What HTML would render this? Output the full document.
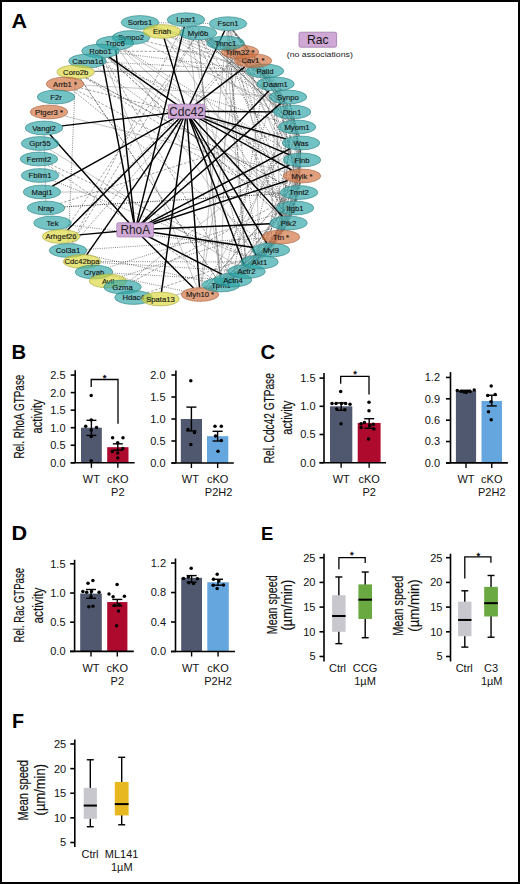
<!DOCTYPE html>
<html><head><meta charset="utf-8"><style>
html,body{margin:0;padding:0;background:#fff;}
svg{display:block;}
text{font-family:"Liberation Sans", sans-serif;}
</style></head><body>
<svg width="520" height="884" viewBox="0 0 520 884">
<rect x="0" y="0" width="520" height="884" fill="#fff"/>
<text transform="translate(11.5,28) scale(1.06,1)" font-size="20.3" font-weight="bold" fill="#000">A</text>
<line x1="291.14" y1="214.75" x2="274.86" y2="243.25" stroke="#222" stroke-width="0.6" stroke-dasharray="0.9,1.3"/>
<line x1="291.72" y1="214.79" x2="284.28" y2="230.21" stroke="#222" stroke-width="0.6" stroke-dasharray="0.9,1.3"/>
<line x1="270.16" y1="77.38" x2="270.34" y2="77.62" stroke="#222" stroke-width="0.6" stroke-dasharray="0.9,1.3"/>
<line x1="282.17" y1="229.5" x2="239.33" y2="273.5" stroke="#555" stroke-width="0.55" stroke-dasharray="2.6,1.6"/>
<line x1="256.82" y1="64.79" x2="248.18" y2="58.21" stroke="#555" stroke-width="0.55" stroke-dasharray="2.6,1.6"/>
<line x1="243.69" y1="54.71" x2="234.81" y2="48.99" stroke="#555" stroke-width="0.55" stroke-dasharray="2.6,1.6"/>
<line x1="212.05" y1="289.2" x2="220.95" y2="285.3" stroke="#8a8a8a" stroke-width="0.5"/>
<line x1="300.5" y1="182.88" x2="296.5" y2="201.12" stroke="#555" stroke-width="0.55" stroke-dasharray="2.6,1.6"/>
<line x1="237.03" y1="277.46" x2="242.47" y2="274.04" stroke="#8a8a8a" stroke-width="0.5"/>
<line x1="229.71" y1="30.57" x2="279.29" y2="230.13" stroke="#8a8a8a" stroke-width="0.5"/>
<line x1="207.16" y1="39.03" x2="266.34" y2="77.97" stroke="#222" stroke-width="0.6" stroke-dasharray="0.9,1.3"/>
<line x1="245.99" y1="264.6" x2="228.51" y2="30.6" stroke="#222" stroke-width="0.6" stroke-dasharray="0.9,1.3"/>
<line x1="300.36" y1="149.9" x2="295.64" y2="201.1" stroke="#555" stroke-width="0.55" stroke-dasharray="2.6,1.6"/>
<line x1="275.75" y1="90.9" x2="280.75" y2="230.1" stroke="#8a8a8a" stroke-width="0.5"/>
<line x1="296.39" y1="133.9" x2="289.11" y2="216.1" stroke="#8a8a8a" stroke-width="0.5"/>
<line x1="228.37" y1="49.82" x2="292.13" y2="201.18" stroke="#555" stroke-width="0.55" stroke-dasharray="2.6,1.6"/>
<line x1="295.69" y1="199.29" x2="274.31" y2="243.21" stroke="#222" stroke-width="0.6" stroke-dasharray="0.9,1.3"/>
<line x1="224.8" y1="49.9" x2="200.7" y2="287.6" stroke="#8a8a8a" stroke-width="0.5"/>
<line x1="287.66" y1="103.9" x2="281.34" y2="230.1" stroke="#8a8a8a" stroke-width="0.5"/>
<line x1="226.57" y1="49.89" x2="258.43" y2="255.11" stroke="#222" stroke-width="0.6" stroke-dasharray="0.9,1.3"/>
<line x1="298.61" y1="169.21" x2="243.39" y2="58.79" stroke="#222" stroke-width="0.6" stroke-dasharray="0.9,1.3"/>
<line x1="298.12" y1="169.25" x2="229.38" y2="49.75" stroke="#222" stroke-width="0.6" stroke-dasharray="0.9,1.3"/>
<line x1="221.18" y1="278.1" x2="227.82" y2="30.6" stroke="#8a8a8a" stroke-width="0.5"/>
<line x1="201.24" y1="39.8" x2="285.26" y2="216.2" stroke="#555" stroke-width="0.55" stroke-dasharray="2.6,1.6"/>
<line x1="205.66" y1="287.92" x2="296.34" y2="182.58" stroke="#555" stroke-width="0.55" stroke-dasharray="2.6,1.6"/>
<line x1="250.56" y1="268.07" x2="241.94" y2="273.93" stroke="#8a8a8a" stroke-width="0.5"/>
<line x1="223.8" y1="278.18" x2="289.2" y2="118.82" stroke="#8a8a8a" stroke-width="0.5"/>
<line x1="298.72" y1="133.87" x2="299.28" y2="136.13" stroke="#8a8a8a" stroke-width="0.5"/>
<line x1="296.14" y1="185.68" x2="242.86" y2="58.82" stroke="#8a8a8a" stroke-width="0.5"/>
<line x1="201.14" y1="287.61" x2="238.86" y2="58.89" stroke="#8a8a8a" stroke-width="0.5"/>
<line x1="292.05" y1="214.81" x2="291.45" y2="216.19" stroke="#8a8a8a" stroke-width="0.5"/>
<line x1="271.19" y1="243.1" x2="275.31" y2="90.9" stroke="#555" stroke-width="0.55" stroke-dasharray="2.6,1.6"/>
<line x1="269.22" y1="77.5" x2="259.28" y2="67.2" stroke="#555" stroke-width="0.55" stroke-dasharray="2.6,1.6"/>
<line x1="298.61" y1="169.21" x2="243.39" y2="58.79" stroke="#555" stroke-width="0.55" stroke-dasharray="2.6,1.6"/>
<line x1="270.28" y1="77.37" x2="233.22" y2="30.33" stroke="#8a8a8a" stroke-width="0.5"/>
<line x1="261.41" y1="255.14" x2="295.09" y2="133.86" stroke="#222" stroke-width="0.6" stroke-dasharray="0.9,1.3"/>
<line x1="233.22" y1="30.33" x2="270.28" y2="77.37" stroke="#8a8a8a" stroke-width="0.5"/>
<line x1="237.03" y1="277.46" x2="242.47" y2="274.04" stroke="#555" stroke-width="0.55" stroke-dasharray="2.6,1.6"/>
<line x1="209.07" y1="38.58" x2="241.93" y2="55.12" stroke="#8a8a8a" stroke-width="0.5"/>
<line x1="287.17" y1="105.33" x2="232.83" y2="30.37" stroke="#222" stroke-width="0.6" stroke-dasharray="0.9,1.3"/>
<line x1="299.28" y1="136.13" x2="298.72" y2="133.87" stroke="#555" stroke-width="0.55" stroke-dasharray="2.6,1.6"/>
<line x1="233.18" y1="49.3" x2="267.82" y2="77.7" stroke="#555" stroke-width="0.55" stroke-dasharray="2.6,1.6"/>
<line x1="282.59" y1="90.39" x2="233.41" y2="30.31" stroke="#555" stroke-width="0.55" stroke-dasharray="2.6,1.6"/>
<line x1="298.62" y1="166.79" x2="249.88" y2="264.71" stroke="#555" stroke-width="0.55" stroke-dasharray="2.6,1.6"/>
<line x1="264.45" y1="255.34" x2="283.55" y2="229.66" stroke="#222" stroke-width="0.6" stroke-dasharray="0.9,1.3"/>
<line x1="255.9" y1="67.52" x2="299.1" y2="169.18" stroke="#8a8a8a" stroke-width="0.5"/>
<line x1="257.45" y1="67.4" x2="292.55" y2="120.3" stroke="#222" stroke-width="0.6" stroke-dasharray="0.9,1.3"/>
<line x1="248.13" y1="264.63" x2="286.37" y2="103.87" stroke="#222" stroke-width="0.6" stroke-dasharray="0.9,1.3"/>
<line x1="263.95" y1="77.89" x2="234.05" y2="273.11" stroke="#222" stroke-width="0.6" stroke-dasharray="0.9,1.3"/>
<line x1="273.64" y1="90.87" x2="222.86" y2="278.13" stroke="#222" stroke-width="0.6" stroke-dasharray="0.9,1.3"/>
<line x1="282.81" y1="229.58" x2="252.19" y2="264.92" stroke="#8a8a8a" stroke-width="0.5"/>
<line x1="209.84" y1="38.36" x2="228.16" y2="46.64" stroke="#8a8a8a" stroke-width="0.5"/>
<line x1="281.61" y1="230.1" x2="291.39" y2="118.9" stroke="#8a8a8a" stroke-width="0.5"/>
<line x1="205.66" y1="287.92" x2="296.34" y2="182.58" stroke="#8a8a8a" stroke-width="0.5"/>
<line x1="252.19" y1="264.92" x2="282.81" y2="229.58" stroke="#8a8a8a" stroke-width="0.5"/>
<line x1="256.36" y1="64.87" x2="234.14" y2="49.13" stroke="#8a8a8a" stroke-width="0.5"/>
<line x1="284.15" y1="229.71" x2="275.35" y2="243.29" stroke="#555" stroke-width="0.55" stroke-dasharray="2.6,1.6"/>
<line x1="245.87" y1="264.6" x2="226.13" y2="49.9" stroke="#8a8a8a" stroke-width="0.5"/>
<line x1="270.28" y1="77.37" x2="233.22" y2="30.33" stroke="#8a8a8a" stroke-width="0.5"/>
<line x1="297.23" y1="199.37" x2="296.77" y2="201.13" stroke="#8a8a8a" stroke-width="0.5"/>
<line x1="208.21" y1="38.79" x2="254.79" y2="65.21" stroke="#8a8a8a" stroke-width="0.5"/>
<line x1="275.34" y1="243.58" x2="265.16" y2="255.42" stroke="#222" stroke-width="0.6" stroke-dasharray="0.9,1.3"/>
<line x1="229.89" y1="49.71" x2="297.61" y2="153.29" stroke="#8a8a8a" stroke-width="0.5"/>
<line x1="295.64" y1="201.1" x2="300.36" y2="149.9" stroke="#555" stroke-width="0.55" stroke-dasharray="2.6,1.6"/>
<line x1="208.63" y1="288.37" x2="272.37" y2="243.13" stroke="#555" stroke-width="0.55" stroke-dasharray="2.6,1.6"/>
<line x1="253.22" y1="67.6" x2="259.28" y2="255.1" stroke="#8a8a8a" stroke-width="0.5"/>
<line x1="230.08" y1="30.56" x2="286.42" y2="216.14" stroke="#222" stroke-width="0.6" stroke-dasharray="0.9,1.3"/>
<line x1="203.91" y1="287.75" x2="293.09" y2="133.75" stroke="#222" stroke-width="0.6" stroke-dasharray="0.9,1.3"/>
<line x1="228.51" y1="30.6" x2="245.99" y2="264.6" stroke="#555" stroke-width="0.55" stroke-dasharray="2.6,1.6"/>
<line x1="286.1" y1="216.16" x2="227.9" y2="49.84" stroke="#222" stroke-width="0.6" stroke-dasharray="0.9,1.3"/>
<line x1="300.72" y1="149.9" x2="299.28" y2="185.6" stroke="#222" stroke-width="0.6" stroke-dasharray="0.9,1.3"/>
<line x1="232.85" y1="49.35" x2="280.65" y2="90.65" stroke="#555" stroke-width="0.55" stroke-dasharray="2.6,1.6"/>
<line x1="204.78" y1="39.44" x2="290.22" y2="120.56" stroke="#222" stroke-width="0.6" stroke-dasharray="0.9,1.3"/>
<line x1="258.05" y1="67.35" x2="286.95" y2="105.35" stroke="#555" stroke-width="0.55" stroke-dasharray="2.6,1.6"/>
<line x1="228.84" y1="278.73" x2="273.16" y2="243.27" stroke="#222" stroke-width="0.6" stroke-dasharray="0.9,1.3"/>
<line x1="296.64" y1="199.35" x2="290.86" y2="216.15" stroke="#222" stroke-width="0.6" stroke-dasharray="0.9,1.3"/>
<line x1="250.56" y1="268.07" x2="241.94" y2="273.93" stroke="#555" stroke-width="0.55" stroke-dasharray="2.6,1.6"/>
<line x1="299.64" y1="182.85" x2="283.36" y2="230.15" stroke="#555" stroke-width="0.55" stroke-dasharray="2.6,1.6"/>
<line x1="235.79" y1="277.17" x2="231.71" y2="279.33" stroke="#8a8a8a" stroke-width="0.5"/>
<line x1="220.95" y1="285.3" x2="212.05" y2="289.2" stroke="#222" stroke-width="0.6" stroke-dasharray="0.9,1.3"/>
<line x1="293.44" y1="199.09" x2="226.56" y2="278.41" stroke="#8a8a8a" stroke-width="0.5"/>
<line x1="208.63" y1="288.37" x2="272.37" y2="243.13" stroke="#555" stroke-width="0.55" stroke-dasharray="2.6,1.6"/>
<line x1="289.93" y1="214.64" x2="251.57" y2="264.86" stroke="#8a8a8a" stroke-width="0.5"/>
<line x1="275.34" y1="243.58" x2="265.16" y2="255.42" stroke="#8a8a8a" stroke-width="0.5"/>
<line x1="232.85" y1="49.35" x2="280.65" y2="90.65" stroke="#8a8a8a" stroke-width="0.5"/>
<line x1="212.05" y1="289.2" x2="220.95" y2="285.3" stroke="#555" stroke-width="0.55" stroke-dasharray="2.6,1.6"/>
<line x1="250.42" y1="264.75" x2="298.08" y2="182.75" stroke="#222" stroke-width="0.6" stroke-dasharray="0.9,1.3"/>
<line x1="293.99" y1="118.86" x2="299.01" y2="136.14" stroke="#555" stroke-width="0.55" stroke-dasharray="2.6,1.6"/>
<line x1="256.35" y1="67.49" x2="298.65" y2="153.21" stroke="#555" stroke-width="0.55" stroke-dasharray="2.6,1.6"/>
<line x1="274.52" y1="243.48" x2="252.98" y2="265.02" stroke="#222" stroke-width="0.6" stroke-dasharray="0.9,1.3"/>
<line x1="299.08" y1="149.86" x2="272.92" y2="243.14" stroke="#222" stroke-width="0.6" stroke-dasharray="0.9,1.3"/>
<line x1="283.55" y1="229.66" x2="264.45" y2="255.34" stroke="#8a8a8a" stroke-width="0.5"/>
<line x1="230.84" y1="279.12" x2="249.66" y2="267.88" stroke="#8a8a8a" stroke-width="0.5"/>
<line x1="296.24" y1="199.33" x2="283.76" y2="230.17" stroke="#222" stroke-width="0.6" stroke-dasharray="0.9,1.3"/>
<line x1="300.03" y1="182.86" x2="290.47" y2="216.14" stroke="#555" stroke-width="0.55" stroke-dasharray="2.6,1.6"/>
<line x1="300.72" y1="149.9" x2="299.28" y2="185.6" stroke="#8a8a8a" stroke-width="0.5"/>
<line x1="282.81" y1="229.58" x2="252.19" y2="264.92" stroke="#222" stroke-width="0.6" stroke-dasharray="0.9,1.3"/>
<line x1="204.78" y1="39.44" x2="290.22" y2="120.56" stroke="#8a8a8a" stroke-width="0.5"/>
<line x1="293.43" y1="118.88" x2="300.57" y2="153.12" stroke="#8a8a8a" stroke-width="0.5"/>
<line x1="283.55" y1="229.66" x2="264.45" y2="255.34" stroke="#222" stroke-width="0.6" stroke-dasharray="0.9,1.3"/>
<line x1="295.69" y1="199.29" x2="274.31" y2="243.21" stroke="#555" stroke-width="0.55" stroke-dasharray="2.6,1.6"/>
<line x1="280.72" y1="229.28" x2="207.78" y2="288.22" stroke="#8a8a8a" stroke-width="0.5"/>
<line x1="251.57" y1="264.86" x2="289.93" y2="214.64" stroke="#8a8a8a" stroke-width="0.5"/>
<line x1="209.07" y1="38.58" x2="241.93" y2="55.12" stroke="#222" stroke-width="0.6" stroke-dasharray="0.9,1.3"/>
<line x1="205.52" y1="39.32" x2="284.48" y2="105.68" stroke="#222" stroke-width="0.6" stroke-dasharray="0.9,1.3"/>
<line x1="249.01" y1="267.73" x2="210.49" y2="288.77" stroke="#8a8a8a" stroke-width="0.5"/>
<line x1="250.56" y1="268.07" x2="241.94" y2="273.93" stroke="#555" stroke-width="0.55" stroke-dasharray="2.6,1.6"/>
<line x1="299.14" y1="182.82" x2="273.86" y2="243.18" stroke="#8a8a8a" stroke-width="0.5"/>
<line x1="293.43" y1="118.88" x2="300.57" y2="153.12" stroke="#222" stroke-width="0.6" stroke-dasharray="0.9,1.3"/>
<line x1="205.52" y1="39.32" x2="284.48" y2="105.68" stroke="#8a8a8a" stroke-width="0.5"/>
<line x1="244.49" y1="58.7" x2="296.51" y2="136.3" stroke="#555" stroke-width="0.55" stroke-dasharray="2.6,1.6"/>
<line x1="240.13" y1="273.62" x2="273.87" y2="243.38" stroke="#222" stroke-width="0.6" stroke-dasharray="0.9,1.3"/>
<line x1="230.84" y1="279.12" x2="249.66" y2="267.88" stroke="#8a8a8a" stroke-width="0.5"/>
<line x1="283.55" y1="229.66" x2="264.45" y2="255.34" stroke="#8a8a8a" stroke-width="0.5"/>
<line x1="233.19" y1="30.33" x2="259.81" y2="64.37" stroke="#555" stroke-width="0.55" stroke-dasharray="2.6,1.6"/>
<line x1="209.07" y1="38.58" x2="241.93" y2="55.12" stroke="#8a8a8a" stroke-width="0.5"/>
<line x1="300.13" y1="166.87" x2="282.87" y2="230.13" stroke="#555" stroke-width="0.55" stroke-dasharray="2.6,1.6"/>
<line x1="273.16" y1="243.27" x2="228.84" y2="278.73" stroke="#555" stroke-width="0.55" stroke-dasharray="2.6,1.6"/>
<line x1="268.86" y1="77.75" x2="293.14" y2="120.25" stroke="#222" stroke-width="0.6" stroke-dasharray="0.9,1.3"/>
<line x1="211.2" y1="288.96" x2="235.3" y2="277.04" stroke="#8a8a8a" stroke-width="0.5"/>
<line x1="300.03" y1="182.86" x2="290.47" y2="216.14" stroke="#555" stroke-width="0.55" stroke-dasharray="2.6,1.6"/>
<line x1="276.99" y1="90.88" x2="297.51" y2="185.62" stroke="#222" stroke-width="0.6" stroke-dasharray="0.9,1.3"/>
<line x1="232.53" y1="30.4" x2="248.47" y2="54.0" stroke="#555" stroke-width="0.55" stroke-dasharray="2.6,1.6"/>
<line x1="239.33" y1="273.5" x2="282.17" y2="229.5" stroke="#222" stroke-width="0.6" stroke-dasharray="0.9,1.3"/>
<line x1="299.92" y1="149.89" x2="289.58" y2="216.11" stroke="#8a8a8a" stroke-width="0.5"/>
<line x1="279.47" y1="90.74" x2="288.03" y2="105.26" stroke="#222" stroke-width="0.6" stroke-dasharray="0.9,1.3"/>
<line x1="237.45" y1="273.3" x2="297.55" y2="182.7" stroke="#8a8a8a" stroke-width="0.5"/>
<line x1="289.53" y1="103.88" x2="300.47" y2="153.12" stroke="#222" stroke-width="0.6" stroke-dasharray="0.9,1.3"/>
<line x1="296.83" y1="133.9" x2="295.17" y2="201.1" stroke="#222" stroke-width="0.6" stroke-dasharray="0.9,1.3"/>
<line x1="300.72" y1="149.9" x2="299.28" y2="185.6" stroke="#222" stroke-width="0.6" stroke-dasharray="0.9,1.3"/>
<line x1="232.53" y1="30.4" x2="248.47" y2="54.0" stroke="#555" stroke-width="0.55" stroke-dasharray="2.6,1.6"/>
<line x1="207.16" y1="39.03" x2="266.34" y2="77.97" stroke="#8a8a8a" stroke-width="0.5"/>
<line x1="296.24" y1="199.33" x2="283.76" y2="230.17" stroke="#555" stroke-width="0.55" stroke-dasharray="2.6,1.6"/>
<line x1="230.89" y1="30.52" x2="237.11" y2="45.18" stroke="#222" stroke-width="0.6" stroke-dasharray="0.9,1.3"/>
<line x1="233.18" y1="49.3" x2="267.82" y2="77.7" stroke="#222" stroke-width="0.6" stroke-dasharray="0.9,1.3"/>
<line x1="268.39" y1="77.79" x2="297.61" y2="136.21" stroke="#8a8a8a" stroke-width="0.5"/>
<line x1="257.45" y1="67.4" x2="292.55" y2="120.3" stroke="#8a8a8a" stroke-width="0.5"/>
<line x1="281.61" y1="230.1" x2="291.39" y2="118.9" stroke="#555" stroke-width="0.55" stroke-dasharray="2.6,1.6"/>
<line x1="226.56" y1="278.41" x2="293.44" y2="199.09" stroke="#555" stroke-width="0.55" stroke-dasharray="2.6,1.6"/>
<line x1="281.52" y1="229.41" x2="227.98" y2="278.59" stroke="#222" stroke-width="0.6" stroke-dasharray="0.9,1.3"/>
<line x1="234.14" y1="49.13" x2="256.36" y2="64.87" stroke="#555" stroke-width="0.55" stroke-dasharray="2.6,1.6"/>
<line x1="263.07" y1="256.26" x2="240.93" y2="273.74" stroke="#222" stroke-width="0.6" stroke-dasharray="0.9,1.3"/>
<line x1="272.92" y1="243.14" x2="299.08" y2="149.86" stroke="#8a8a8a" stroke-width="0.5"/>
<line x1="273.16" y1="243.27" x2="228.84" y2="278.73" stroke="#8a8a8a" stroke-width="0.5"/>
<line x1="229.73" y1="278.89" x2="262.27" y2="256.11" stroke="#222" stroke-width="0.6" stroke-dasharray="0.9,1.3"/>
<line x1="235.3" y1="277.04" x2="211.2" y2="288.96" stroke="#8a8a8a" stroke-width="0.5"/>
<line x1="257.45" y1="67.4" x2="292.55" y2="120.3" stroke="#555" stroke-width="0.55" stroke-dasharray="2.6,1.6"/>
<line x1="263.34" y1="255.25" x2="295.16" y2="199.25" stroke="#8a8a8a" stroke-width="0.5"/>
<line x1="263.75" y1="256.37" x2="253.75" y2="265.13" stroke="#555" stroke-width="0.55" stroke-dasharray="2.6,1.6"/>
<line x1="252.19" y1="264.92" x2="282.81" y2="229.58" stroke="#8a8a8a" stroke-width="0.5"/>
<line x1="207.16" y1="39.03" x2="266.34" y2="77.97" stroke="#222" stroke-width="0.6" stroke-dasharray="0.9,1.3"/>
<line x1="273.36" y1="243.15" x2="299.64" y2="166.85" stroke="#8a8a8a" stroke-width="0.5"/>
<line x1="230.52" y1="49.65" x2="295.98" y2="136.35" stroke="#8a8a8a" stroke-width="0.5"/>
<line x1="261.5" y1="255.95" x2="209.5" y2="288.55" stroke="#555" stroke-width="0.55" stroke-dasharray="2.6,1.6"/>
<line x1="300.03" y1="182.86" x2="290.47" y2="216.14" stroke="#8a8a8a" stroke-width="0.5"/>
<line x1="283.55" y1="229.66" x2="264.45" y2="255.34" stroke="#8a8a8a" stroke-width="0.5"/>
<line x1="282.17" y1="229.5" x2="239.33" y2="273.5" stroke="#8a8a8a" stroke-width="0.5"/>
<line x1="278.45" y1="90.81" x2="298.05" y2="136.19" stroke="#555" stroke-width="0.55" stroke-dasharray="2.6,1.6"/>
<line x1="293.43" y1="118.88" x2="300.57" y2="153.12" stroke="#222" stroke-width="0.6" stroke-dasharray="0.9,1.3"/>
<line x1="227.11" y1="30.59" x2="226.39" y2="36.11" stroke="#8a8a8a" stroke-width="0.5"/>
<line x1="290.06" y1="103.86" x2="294.94" y2="120.14" stroke="#555" stroke-width="0.55" stroke-dasharray="2.6,1.6"/>
<line x1="298.61" y1="149.84" x2="261.89" y2="255.16" stroke="#555" stroke-width="0.55" stroke-dasharray="2.6,1.6"/>
<line x1="251.57" y1="264.86" x2="289.93" y2="214.64" stroke="#8a8a8a" stroke-width="0.5"/>
<line x1="250.56" y1="268.07" x2="241.94" y2="273.93" stroke="#222" stroke-width="0.6" stroke-dasharray="0.9,1.3"/>
<line x1="235.3" y1="277.04" x2="211.2" y2="288.96" stroke="#222" stroke-width="0.6" stroke-dasharray="0.9,1.3"/>
<line x1="209.5" y1="288.55" x2="261.5" y2="255.95" stroke="#222" stroke-width="0.6" stroke-dasharray="0.9,1.3"/>
<line x1="232.53" y1="30.4" x2="248.47" y2="54.0" stroke="#555" stroke-width="0.55" stroke-dasharray="2.6,1.6"/>
<line x1="272.37" y1="243.13" x2="208.63" y2="288.37" stroke="#8a8a8a" stroke-width="0.5"/>
<line x1="276.99" y1="90.88" x2="297.51" y2="185.62" stroke="#555" stroke-width="0.55" stroke-dasharray="2.6,1.6"/>
<line x1="277.89" y1="90.84" x2="299.61" y2="153.16" stroke="#8a8a8a" stroke-width="0.5"/>
<line x1="273.36" y1="243.15" x2="299.64" y2="166.85" stroke="#555" stroke-width="0.55" stroke-dasharray="2.6,1.6"/>
<line x1="259.27" y1="67.2" x2="281.73" y2="90.5" stroke="#222" stroke-width="0.6" stroke-dasharray="0.9,1.3"/>
<line x1="240.13" y1="273.62" x2="273.87" y2="243.38" stroke="#222" stroke-width="0.6" stroke-dasharray="0.9,1.3"/>
<line x1="299.54" y1="149.88" x2="282.46" y2="230.12" stroke="#8a8a8a" stroke-width="0.5"/>
<line x1="278.89" y1="90.79" x2="293.61" y2="120.21" stroke="#222" stroke-width="0.6" stroke-dasharray="0.9,1.3"/>
<line x1="279.47" y1="90.74" x2="288.03" y2="105.26" stroke="#8a8a8a" stroke-width="0.5"/>
<line x1="289.94" y1="103.86" x2="299.06" y2="136.14" stroke="#222" stroke-width="0.6" stroke-dasharray="0.9,1.3"/>
<line x1="293.08" y1="118.89" x2="300.92" y2="169.11" stroke="#8a8a8a" stroke-width="0.5"/>
<line x1="295.16" y1="199.25" x2="263.34" y2="255.25" stroke="#222" stroke-width="0.6" stroke-dasharray="0.9,1.3"/>
<line x1="259.27" y1="67.2" x2="281.73" y2="90.5" stroke="#555" stroke-width="0.55" stroke-dasharray="2.6,1.6"/>
<line x1="151.82" y1="27.87" x2="263.68" y2="78.63" stroke="#8a8a8a" stroke-width="0.5"/>
<line x1="108.28" y1="57.28" x2="287.22" y2="201.72" stroke="#8a8a8a" stroke-width="0.5"/>
<line x1="86.27" y1="77.71" x2="288.43" y2="186.79" stroke="#555" stroke-width="0.55" stroke-dasharray="2.6,1.6"/>
<line x1="146.54" y1="41.38" x2="249.46" y2="67.12" stroke="#555" stroke-width="0.55" stroke-dasharray="2.6,1.6"/>
<line x1="153.83" y1="27.17" x2="239.17" y2="56.03" stroke="#222" stroke-width="0.6" stroke-dasharray="0.9,1.3"/>
<line x1="80.27" y1="78.69" x2="216.43" y2="278.31" stroke="#555" stroke-width="0.55" stroke-dasharray="2.6,1.6"/>
<line x1="142.68" y1="42.91" x2="280.32" y2="106.59" stroke="#8a8a8a" stroke-width="0.5"/>
<line x1="171.59" y1="37.44" x2="282.41" y2="106.06" stroke="#222" stroke-width="0.6" stroke-dasharray="0.9,1.3"/>
<line x1="186.91" y1="26.59" x2="220.09" y2="278.11" stroke="#8a8a8a" stroke-width="0.5"/>
<line x1="106.08" y1="62.05" x2="246.42" y2="69.95" stroke="#222" stroke-width="0.6" stroke-dasharray="0.9,1.3"/>
<line x1="107.5" y1="57.4" x2="281.5" y2="216.6" stroke="#555" stroke-width="0.55" stroke-dasharray="2.6,1.6"/>
<line x1="85.28" y1="77.94" x2="285.42" y2="202.06" stroke="#555" stroke-width="0.55" stroke-dasharray="2.6,1.6"/>
<line x1="119.3" y1="51.13" x2="221.2" y2="51.87" stroke="#555" stroke-width="0.55" stroke-dasharray="2.6,1.6"/>
<line x1="149.08" y1="28.54" x2="287.92" y2="120.96" stroke="#8a8a8a" stroke-width="0.5"/>
<line x1="96.15" y1="67.13" x2="286.35" y2="201.87" stroke="#222" stroke-width="0.6" stroke-dasharray="0.9,1.3"/>
<line x1="204.78" y1="39.44" x2="290.22" y2="120.56" stroke="#555" stroke-width="0.55" stroke-dasharray="2.6,1.6"/>
<line x1="187.65" y1="26.57" x2="244.85" y2="264.63" stroke="#222" stroke-width="0.6" stroke-dasharray="0.9,1.3"/>
<line x1="118.35" y1="53.17" x2="247.15" y2="68.83" stroke="#222" stroke-width="0.6" stroke-dasharray="0.9,1.3"/>
<line x1="198.63" y1="39.9" x2="220.37" y2="278.1" stroke="#555" stroke-width="0.55" stroke-dasharray="2.6,1.6"/>
<line x1="80.27" y1="78.69" x2="216.43" y2="278.31" stroke="#222" stroke-width="0.6" stroke-dasharray="0.9,1.3"/>
<line x1="124.51" y1="48.95" x2="292.49" y2="154.05" stroke="#222" stroke-width="0.6" stroke-dasharray="0.9,1.3"/>
<line x1="166.43" y1="38.21" x2="284.07" y2="216.29" stroke="#8a8a8a" stroke-width="0.5"/>
<line x1="104.41" y1="57.75" x2="229.09" y2="273.25" stroke="#555" stroke-width="0.55" stroke-dasharray="2.6,1.6"/>
<line x1="205.52" y1="39.32" x2="284.48" y2="105.68" stroke="#555" stroke-width="0.55" stroke-dasharray="2.6,1.6"/>
<line x1="175.0" y1="36.48" x2="252.0" y2="66.02" stroke="#222" stroke-width="0.6" stroke-dasharray="0.9,1.3"/>
<line x1="119.42" y1="49.71" x2="255.08" y2="255.29" stroke="#8a8a8a" stroke-width="0.5"/>
<line x1="103.29" y1="57.82" x2="197.21" y2="287.68" stroke="#8a8a8a" stroke-width="0.5"/>
<line x1="123.62" y1="49.13" x2="293.38" y2="169.87" stroke="#8a8a8a" stroke-width="0.5"/>
<line x1="198.63" y1="39.9" x2="220.37" y2="278.1" stroke="#8a8a8a" stroke-width="0.5"/>
<line x1="189.42" y1="26.48" x2="285.08" y2="216.22" stroke="#555" stroke-width="0.55" stroke-dasharray="2.6,1.6"/>
<line x1="101.77" y1="65.49" x2="282.73" y2="122.51" stroke="#222" stroke-width="0.6" stroke-dasharray="0.9,1.3"/>
<line x1="198.63" y1="39.9" x2="220.37" y2="278.1" stroke="#8a8a8a" stroke-width="0.5"/>
<line x1="73.7" y1="243.92" x2="234.3" y2="58.58" stroke="#222" stroke-width="0.6" stroke-dasharray="0.9,1.3"/>
<line x1="75.58" y1="89.7" x2="284.42" y2="202.3" stroke="#555" stroke-width="0.55" stroke-dasharray="2.6,1.6"/>
<line x1="194.55" y1="25.84" x2="266.95" y2="77.86" stroke="#555" stroke-width="0.55" stroke-dasharray="2.6,1.6"/>
<line x1="154.65" y1="26.82" x2="225.35" y2="47.68" stroke="#8a8a8a" stroke-width="0.5"/>
<line x1="80.54" y1="87.88" x2="285.46" y2="139.12" stroke="#555" stroke-width="0.55" stroke-dasharray="2.6,1.6"/>
<line x1="64.54" y1="206.86" x2="280.46" y2="193.64" stroke="#222" stroke-width="0.6" stroke-dasharray="0.9,1.3"/>
<line x1="67.31" y1="230.0" x2="233.69" y2="58.5" stroke="#555" stroke-width="0.55" stroke-dasharray="2.6,1.6"/>
<line x1="175.8" y1="294.99" x2="217.7" y2="284.01" stroke="#8a8a8a" stroke-width="0.5"/>
<line x1="84.02" y1="254.11" x2="204.98" y2="281.39" stroke="#222" stroke-width="0.6" stroke-dasharray="0.9,1.3"/>
<line x1="190.94" y1="26.36" x2="297.06" y2="169.34" stroke="#222" stroke-width="0.6" stroke-dasharray="0.9,1.3"/>
<line x1="110.07" y1="56.94" x2="292.43" y2="170.06" stroke="#555" stroke-width="0.55" stroke-dasharray="2.6,1.6"/>
<line x1="107.5" y1="57.4" x2="281.5" y2="216.6" stroke="#555" stroke-width="0.55" stroke-dasharray="2.6,1.6"/>
<line x1="72.03" y1="243.76" x2="193.97" y2="39.74" stroke="#555" stroke-width="0.55" stroke-dasharray="2.6,1.6"/>
<line x1="60.8" y1="192.04" x2="280.2" y2="192.46" stroke="#8a8a8a" stroke-width="0.5"/>
<line x1="49.58" y1="149.44" x2="236.92" y2="265.56" stroke="#8a8a8a" stroke-width="0.5"/>
<line x1="60.12" y1="203.44" x2="282.88" y2="131.56" stroke="#555" stroke-width="0.55" stroke-dasharray="2.6,1.6"/>
<line x1="72.79" y1="90.28" x2="263.21" y2="243.72" stroke="#222" stroke-width="0.6" stroke-dasharray="0.9,1.3"/>
<line x1="110.27" y1="275.45" x2="183.73" y2="291.05" stroke="#222" stroke-width="0.6" stroke-dasharray="0.9,1.3"/>
<line x1="158.79" y1="22.76" x2="209.21" y2="23.44" stroke="#222" stroke-width="0.6" stroke-dasharray="0.9,1.3"/>
<line x1="65.51" y1="229.8" x2="193.49" y2="39.7" stroke="#555" stroke-width="0.55" stroke-dasharray="2.6,1.6"/>
<line x1="47.81" y1="165.1" x2="212.19" y2="278.9" stroke="#555" stroke-width="0.55" stroke-dasharray="2.6,1.6"/>
<line x1="64.48" y1="115.92" x2="286.52" y2="172.08" stroke="#8a8a8a" stroke-width="0.5"/>
<line x1="130.29" y1="280.72" x2="293.21" y2="149.28" stroke="#8a8a8a" stroke-width="0.5"/>
<line x1="86.27" y1="77.71" x2="288.43" y2="186.79" stroke="#222" stroke-width="0.6" stroke-dasharray="0.9,1.3"/>
<line x1="83.57" y1="85.08" x2="269.43" y2="95.92" stroke="#8a8a8a" stroke-width="0.5"/>
<line x1="121.99" y1="49.41" x2="288.01" y2="201.59" stroke="#8a8a8a" stroke-width="0.5"/>
<line x1="75.4" y1="78.9" x2="68.3" y2="243.6" stroke="#222" stroke-width="0.6" stroke-dasharray="0.9,1.3"/>
<line x1="182.53" y1="26.48" x2="71.47" y2="243.72" stroke="#555" stroke-width="0.55" stroke-dasharray="2.6,1.6"/>
<line x1="105.81" y1="49.02" x2="96.69" y2="54.98" stroke="#222" stroke-width="0.6" stroke-dasharray="0.9,1.3"/>
<line x1="44.17" y1="134.9" x2="45.83" y2="201.1" stroke="#8a8a8a" stroke-width="0.5"/>
<line x1="86.53" y1="249.33" x2="262.47" y2="238.17" stroke="#222" stroke-width="0.6" stroke-dasharray="0.9,1.3"/>
<line x1="100.55" y1="262.63" x2="227.95" y2="270.37" stroke="#222" stroke-width="0.6" stroke-dasharray="0.9,1.3"/>
<line x1="108.2" y1="267.48" x2="280.8" y2="212.52" stroke="#222" stroke-width="0.6" stroke-dasharray="0.9,1.3"/>
<line x1="122.14" y1="276.45" x2="274.36" y2="227.55" stroke="#222" stroke-width="0.6" stroke-dasharray="0.9,1.3"/>
<line x1="133.13" y1="281.31" x2="288.37" y2="198.19" stroke="#555" stroke-width="0.55" stroke-dasharray="2.6,1.6"/>
<line x1="147.19" y1="292.77" x2="257.31" y2="254.73" stroke="#555" stroke-width="0.55" stroke-dasharray="2.6,1.6"/>
<line x1="100.8" y1="261.55" x2="240.7" y2="261.95" stroke="#222" stroke-width="0.6" stroke-dasharray="0.9,1.3"/>
<line x1="112.57" y1="273.07" x2="214.43" y2="278.93" stroke="#222" stroke-width="0.6" stroke-dasharray="0.9,1.3"/>
<line x1="64.54" y1="206.86" x2="280.46" y2="193.64" stroke="#222" stroke-width="0.6" stroke-dasharray="0.9,1.3"/>
<line x1="70.32" y1="225.2" x2="253.18" y2="247.8" stroke="#222" stroke-width="0.6" stroke-dasharray="0.9,1.3"/>
<line x1="52.81" y1="180.55" x2="246.69" y2="256.95" stroke="#222" stroke-width="0.6" stroke-dasharray="0.9,1.3"/>
<line x1="50.62" y1="164.43" x2="247.88" y2="256.57" stroke="#555" stroke-width="0.55" stroke-dasharray="2.6,1.6"/>
<line x1="94.5" y1="71.3" x2="246.2" y2="71.3" stroke="#222" stroke-width="0.75"/>
<line x1="186.5" y1="111.3" x2="164.11" y2="38.36" stroke="#000" stroke-width="1.45"/>
<line x1="186.5" y1="111.3" x2="224.78" y2="30.5" stroke="#000" stroke-width="1.45"/>
<line x1="186.5" y1="111.3" x2="244.83" y2="66.91" stroke="#000" stroke-width="1.45"/>
<line x1="186.5" y1="111.3" x2="109.22" y2="57.11" stroke="#000" stroke-width="1.45"/>
<line x1="186.5" y1="111.3" x2="61.91" y2="125.9" stroke="#000" stroke-width="1.45"/>
<line x1="186.5" y1="111.3" x2="52.32" y2="186.23" stroke="#000" stroke-width="1.45"/>
<line x1="186.5" y1="111.3" x2="67.49" y2="230.02" stroke="#000" stroke-width="1.45"/>
<line x1="186.5" y1="111.3" x2="273.2" y2="111.88" stroke="#000" stroke-width="1.45"/>
<line x1="186.5" y1="111.3" x2="285.99" y2="138.84" stroke="#000" stroke-width="1.45"/>
<line x1="186.5" y1="111.3" x2="289.66" y2="154.8" stroke="#000" stroke-width="1.45"/>
<line x1="186.5" y1="111.3" x2="291.7" y2="170.23" stroke="#000" stroke-width="1.45"/>
<line x1="186.5" y1="111.3" x2="86.65" y2="254.81" stroke="#000" stroke-width="1.45"/>
<line x1="186.5" y1="111.3" x2="161.45" y2="292.11" stroke="#000" stroke-width="1.45"/>
<line x1="186.5" y1="111.3" x2="199.49" y2="287.6" stroke="#000" stroke-width="1.45"/>
<line x1="186.5" y1="111.3" x2="135.2" y2="229.8" stroke="#000" stroke-width="1.45"/>
<line x1="186.5" y1="111.3" x2="243.94" y2="264.66" stroke="#000" stroke-width="1.45"/>
<line x1="186.5" y1="111.3" x2="256.21" y2="255.21" stroke="#000" stroke-width="1.45"/>
<line x1="186.5" y1="111.3" x2="266.9" y2="243.27" stroke="#000" stroke-width="1.45"/>
<line x1="186.5" y1="111.3" x2="282.53" y2="216.46" stroke="#000" stroke-width="1.45"/>
<line x1="135.2" y1="229.8" x2="184.34" y2="26.57" stroke="#000" stroke-width="1.45"/>
<line x1="135.2" y1="229.8" x2="115.75" y2="49.89" stroke="#000" stroke-width="1.45"/>
<line x1="135.2" y1="229.8" x2="101.84" y2="57.88" stroke="#000" stroke-width="1.45"/>
<line x1="135.2" y1="229.8" x2="49.87" y2="134.55" stroke="#000" stroke-width="1.45"/>
<line x1="135.2" y1="229.8" x2="79.26" y2="234.85" stroke="#000" stroke-width="1.45"/>
<line x1="135.2" y1="229.8" x2="269.24" y2="90.51" stroke="#000" stroke-width="1.45"/>
<line x1="135.2" y1="229.8" x2="280.69" y2="103.36" stroke="#000" stroke-width="1.45"/>
<line x1="135.2" y1="229.8" x2="193.51" y2="288.02" stroke="#000" stroke-width="1.45"/>
<line x1="135.2" y1="229.8" x2="269.84" y2="223.83" stroke="#000" stroke-width="1.45"/>
<line x1="135.2" y1="229.8" x2="287.88" y2="180.55" stroke="#000" stroke-width="1.45"/>
<line x1="135.2" y1="229.8" x2="289.6" y2="165.19" stroke="#000" stroke-width="1.45"/>
<line x1="135.2" y1="229.8" x2="290.21" y2="148.65" stroke="#000" stroke-width="1.45"/>
<line x1="135.2" y1="229.8" x2="253.58" y2="247.41" stroke="#000" stroke-width="1.45"/>
<line x1="135.2" y1="229.8" x2="222.07" y2="274.39" stroke="#000" stroke-width="1.45"/>
<ellipse cx="140" cy="22.5" rx="18.8" ry="6.9" fill="#29a3a4" fill-opacity="0.65" stroke="#2f8384" stroke-opacity="1" stroke-width="0.6"/>
<text x="140" y="25.25" font-size="7.7" text-anchor="middle" fill="#111" stroke="#111" stroke-width="0.12">Sorbs1</text>
<ellipse cx="228" cy="23.7" rx="18.8" ry="6.9" fill="#29a3a4" fill-opacity="0.65" stroke="#2f8384" stroke-opacity="1" stroke-width="0.6"/>
<text x="228" y="26.45" font-size="7.7" text-anchor="middle" fill="#111" stroke="#111" stroke-width="0.12">Fscn1</text>
<ellipse cx="186" cy="19.7" rx="18.8" ry="6.9" fill="#29a3a4" fill-opacity="0.65" stroke="#2f8384" stroke-opacity="1" stroke-width="0.6"/>
<text x="186" y="22.45" font-size="7.7" text-anchor="middle" fill="#111" stroke="#111" stroke-width="0.12">Lpar1</text>
<ellipse cx="131" cy="37.5" rx="18.8" ry="6.9" fill="#29a3a4" fill-opacity="0.65" stroke="#2f8384" stroke-opacity="1" stroke-width="0.6"/>
<text x="131" y="40.25" font-size="7.7" text-anchor="middle" fill="#111" stroke="#111" stroke-width="0.12">Synpo2</text>
<ellipse cx="115" cy="43" rx="18.8" ry="6.9" fill="#29a3a4" fill-opacity="0.65" stroke="#2f8384" stroke-opacity="1" stroke-width="0.6"/>
<text x="115" y="45.75" font-size="7.7" text-anchor="middle" fill="#111" stroke="#111" stroke-width="0.12">Trpc6</text>
<ellipse cx="100.5" cy="51" rx="18.8" ry="6.9" fill="#29a3a4" fill-opacity="0.65" stroke="#2f8384" stroke-opacity="1" stroke-width="0.6"/>
<text x="100.5" y="53.75" font-size="7.7" text-anchor="middle" fill="#111" stroke="#111" stroke-width="0.12">Robo1</text>
<ellipse cx="87.5" cy="61" rx="18.8" ry="6.9" fill="#29a3a4" fill-opacity="0.65" stroke="#2f8384" stroke-opacity="1" stroke-width="0.6"/>
<text x="87.5" y="63.75" font-size="7.7" text-anchor="middle" fill="#111" stroke="#111" stroke-width="0.12">Cacna1c</text>
<ellipse cx="75.7" cy="72" rx="18.8" ry="6.9" fill="#d9d532" fill-opacity="0.65" stroke="#a8a64a" stroke-opacity="1" stroke-width="0.6"/>
<text x="75.7" y="74.75" font-size="7.7" text-anchor="middle" fill="#111" stroke="#111" stroke-width="0.12">Coro2b</text>
<ellipse cx="65" cy="84" rx="18.8" ry="6.9" fill="#cf6d39" fill-opacity="0.65" stroke="#a8684a" stroke-opacity="1" stroke-width="0.6"/>
<text x="65" y="86.75" font-size="7.7" text-anchor="middle" fill="#111" stroke="#111" stroke-width="0.12">Arrb1 *</text>
<ellipse cx="56" cy="97" rx="18.8" ry="6.9" fill="#29a3a4" fill-opacity="0.65" stroke="#2f8384" stroke-opacity="1" stroke-width="0.6"/>
<text x="56" y="99.75" font-size="7.7" text-anchor="middle" fill="#111" stroke="#111" stroke-width="0.12">F2r</text>
<ellipse cx="49" cy="112" rx="18.8" ry="6.9" fill="#cf6d39" fill-opacity="0.65" stroke="#a8684a" stroke-opacity="1" stroke-width="0.6"/>
<text x="49" y="114.75" font-size="7.7" text-anchor="middle" fill="#111" stroke="#111" stroke-width="0.12">Ptger3 *</text>
<ellipse cx="44" cy="128" rx="18.8" ry="6.9" fill="#29a3a4" fill-opacity="0.65" stroke="#2f8384" stroke-opacity="1" stroke-width="0.6"/>
<text x="44" y="130.75" font-size="7.7" text-anchor="middle" fill="#111" stroke="#111" stroke-width="0.12">Vangl2</text>
<ellipse cx="40" cy="143.5" rx="18.8" ry="6.9" fill="#29a3a4" fill-opacity="0.65" stroke="#2f8384" stroke-opacity="1" stroke-width="0.6"/>
<text x="40" y="146.25" font-size="7.7" text-anchor="middle" fill="#111" stroke="#111" stroke-width="0.12">Gpr55</text>
<ellipse cx="39" cy="159" rx="18.8" ry="6.9" fill="#29a3a4" fill-opacity="0.65" stroke="#2f8384" stroke-opacity="1" stroke-width="0.6"/>
<text x="39" y="161.75" font-size="7.7" text-anchor="middle" fill="#111" stroke="#111" stroke-width="0.12">Fermt2</text>
<ellipse cx="40" cy="175.5" rx="18.8" ry="6.9" fill="#29a3a4" fill-opacity="0.65" stroke="#2f8384" stroke-opacity="1" stroke-width="0.6"/>
<text x="40" y="178.25" font-size="7.7" text-anchor="middle" fill="#111" stroke="#111" stroke-width="0.12">Fblim1</text>
<ellipse cx="42" cy="192" rx="18.8" ry="6.9" fill="#29a3a4" fill-opacity="0.65" stroke="#2f8384" stroke-opacity="1" stroke-width="0.6"/>
<text x="42" y="194.75" font-size="7.7" text-anchor="middle" fill="#111" stroke="#111" stroke-width="0.12">Magi1</text>
<ellipse cx="46" cy="208" rx="18.8" ry="6.9" fill="#29a3a4" fill-opacity="0.65" stroke="#2f8384" stroke-opacity="1" stroke-width="0.6"/>
<text x="46" y="210.75" font-size="7.7" text-anchor="middle" fill="#111" stroke="#111" stroke-width="0.12">Nrap</text>
<ellipse cx="52.5" cy="223" rx="18.8" ry="6.9" fill="#29a3a4" fill-opacity="0.65" stroke="#2f8384" stroke-opacity="1" stroke-width="0.6"/>
<text x="52.5" y="225.75" font-size="7.7" text-anchor="middle" fill="#111" stroke="#111" stroke-width="0.12">Tek</text>
<ellipse cx="61" cy="236.5" rx="18.8" ry="6.9" fill="#d9d532" fill-opacity="0.65" stroke="#a8a64a" stroke-opacity="1" stroke-width="0.6"/>
<text x="61" y="239.25" font-size="7.7" text-anchor="middle" fill="#111" stroke="#111" stroke-width="0.12">Arhgef26</text>
<ellipse cx="68" cy="250.5" rx="18.8" ry="6.9" fill="#29a3a4" fill-opacity="0.65" stroke="#2f8384" stroke-opacity="1" stroke-width="0.6"/>
<text x="68" y="253.25" font-size="7.7" text-anchor="middle" fill="#111" stroke="#111" stroke-width="0.12">Col3a1</text>
<ellipse cx="82" cy="261.5" rx="18.8" ry="6.9" fill="#d9d532" fill-opacity="0.65" stroke="#a8a64a" stroke-opacity="1" stroke-width="0.6"/>
<text x="82" y="264.25" font-size="7.7" text-anchor="middle" fill="#111" stroke="#111" stroke-width="0.12">Cdc42bpa</text>
<ellipse cx="94" cy="272" rx="18.8" ry="6.9" fill="#29a3a4" fill-opacity="0.65" stroke="#2f8384" stroke-opacity="1" stroke-width="0.6"/>
<text x="94" y="274.75" font-size="7.7" text-anchor="middle" fill="#111" stroke="#111" stroke-width="0.12">Cryab</text>
<ellipse cx="108" cy="281" rx="18.8" ry="6.9" fill="#d9d532" fill-opacity="0.65" stroke="#a8a64a" stroke-opacity="1" stroke-width="0.6"/>
<text x="108" y="283.75" font-size="7.7" text-anchor="middle" fill="#111" stroke="#111" stroke-width="0.12">Avil</text>
<ellipse cx="122.5" cy="287" rx="18.8" ry="6.9" fill="#29a3a4" fill-opacity="0.65" stroke="#2f8384" stroke-opacity="1" stroke-width="0.6"/>
<text x="122.5" y="289.75" font-size="7.7" text-anchor="middle" fill="#111" stroke="#111" stroke-width="0.12">Gzma</text>
<ellipse cx="133.5" cy="297.5" rx="18.8" ry="6.9" fill="#29a3a4" fill-opacity="0.65" stroke="#2f8384" stroke-opacity="1" stroke-width="0.6"/>
<text x="133.5" y="300.25" font-size="7.7" text-anchor="middle" fill="#111" stroke="#111" stroke-width="0.12">Hdac4</text>
<ellipse cx="160.5" cy="299" rx="18.8" ry="6.9" fill="#d9d532" fill-opacity="0.65" stroke="#a8a64a" stroke-opacity="1" stroke-width="0.6"/>
<text x="160.5" y="301.75" font-size="7.7" text-anchor="middle" fill="#111" stroke="#111" stroke-width="0.12">Spata13</text>
<ellipse cx="200" cy="294.5" rx="18.8" ry="6.9" fill="#cf6d39" fill-opacity="0.65" stroke="#a8684a" stroke-opacity="1" stroke-width="0.6"/>
<text x="200" y="297.25" font-size="7.7" text-anchor="middle" fill="#111" stroke="#111" stroke-width="0.12">Myh10 *</text>
<ellipse cx="221" cy="285" rx="18.8" ry="6.9" fill="#29a3a4" fill-opacity="0.65" stroke="#2f8384" stroke-opacity="1" stroke-width="0.6"/>
<text x="221" y="287.75" font-size="7.7" text-anchor="middle" fill="#111" stroke="#111" stroke-width="0.12">Tpm1</text>
<ellipse cx="233" cy="280" rx="18.8" ry="6.9" fill="#29a3a4" fill-opacity="0.65" stroke="#2f8384" stroke-opacity="1" stroke-width="0.6"/>
<text x="233" y="282.75" font-size="7.7" text-anchor="middle" fill="#111" stroke="#111" stroke-width="0.12">Actn4</text>
<ellipse cx="246.5" cy="271.5" rx="18.8" ry="6.9" fill="#29a3a4" fill-opacity="0.65" stroke="#2f8384" stroke-opacity="1" stroke-width="0.6"/>
<text x="246.5" y="274.25" font-size="7.7" text-anchor="middle" fill="#111" stroke="#111" stroke-width="0.12">Actr2</text>
<ellipse cx="259.5" cy="262" rx="18.8" ry="6.9" fill="#29a3a4" fill-opacity="0.65" stroke="#2f8384" stroke-opacity="1" stroke-width="0.6"/>
<text x="259.5" y="264.75" font-size="7.7" text-anchor="middle" fill="#111" stroke="#111" stroke-width="0.12">Akt1</text>
<ellipse cx="271" cy="250" rx="18.8" ry="6.9" fill="#29a3a4" fill-opacity="0.65" stroke="#2f8384" stroke-opacity="1" stroke-width="0.6"/>
<text x="271" y="252.75" font-size="7.7" text-anchor="middle" fill="#111" stroke="#111" stroke-width="0.12">Myl9</text>
<ellipse cx="281" cy="237" rx="18.8" ry="6.9" fill="#cf6d39" fill-opacity="0.65" stroke="#a8684a" stroke-opacity="1" stroke-width="0.6"/>
<text x="281" y="239.75" font-size="7.7" text-anchor="middle" fill="#111" stroke="#111" stroke-width="0.12">Ttn *</text>
<ellipse cx="288.5" cy="223" rx="18.8" ry="6.9" fill="#29a3a4" fill-opacity="0.65" stroke="#2f8384" stroke-opacity="1" stroke-width="0.6"/>
<text x="288.5" y="225.75" font-size="7.7" text-anchor="middle" fill="#111" stroke="#111" stroke-width="0.12">Ptk2</text>
<ellipse cx="295" cy="208" rx="18.8" ry="6.9" fill="#29a3a4" fill-opacity="0.65" stroke="#2f8384" stroke-opacity="1" stroke-width="0.6"/>
<text x="295" y="210.75" font-size="7.7" text-anchor="middle" fill="#111" stroke="#111" stroke-width="0.12">Itgb1</text>
<ellipse cx="299" cy="192.5" rx="18.8" ry="6.9" fill="#29a3a4" fill-opacity="0.65" stroke="#2f8384" stroke-opacity="1" stroke-width="0.6"/>
<text x="299" y="195.25" font-size="7.7" text-anchor="middle" fill="#111" stroke="#111" stroke-width="0.12">Tnnt2</text>
<ellipse cx="302" cy="176" rx="18.8" ry="6.9" fill="#cf6d39" fill-opacity="0.65" stroke="#a8684a" stroke-opacity="1" stroke-width="0.6"/>
<text x="302" y="178.75" font-size="7.7" text-anchor="middle" fill="#111" stroke="#111" stroke-width="0.12">Mylk *</text>
<ellipse cx="302" cy="160" rx="18.8" ry="6.9" fill="#29a3a4" fill-opacity="0.65" stroke="#2f8384" stroke-opacity="1" stroke-width="0.6"/>
<text x="302" y="162.75" font-size="7.7" text-anchor="middle" fill="#111" stroke="#111" stroke-width="0.12">Flnb</text>
<ellipse cx="301" cy="143" rx="18.8" ry="6.9" fill="#29a3a4" fill-opacity="0.65" stroke="#2f8384" stroke-opacity="1" stroke-width="0.6"/>
<text x="301" y="145.75" font-size="7.7" text-anchor="middle" fill="#111" stroke="#111" stroke-width="0.12">Was</text>
<ellipse cx="297" cy="127" rx="18.8" ry="6.9" fill="#29a3a4" fill-opacity="0.65" stroke="#2f8384" stroke-opacity="1" stroke-width="0.6"/>
<text x="297" y="129.75" font-size="7.7" text-anchor="middle" fill="#111" stroke="#111" stroke-width="0.12">Myom1</text>
<ellipse cx="292" cy="112" rx="18.8" ry="6.9" fill="#29a3a4" fill-opacity="0.65" stroke="#2f8384" stroke-opacity="1" stroke-width="0.6"/>
<text x="292" y="114.75" font-size="7.7" text-anchor="middle" fill="#111" stroke="#111" stroke-width="0.12">Dbn1</text>
<ellipse cx="288" cy="97" rx="18.8" ry="6.9" fill="#29a3a4" fill-opacity="0.65" stroke="#2f8384" stroke-opacity="1" stroke-width="0.6"/>
<text x="288" y="99.75" font-size="7.7" text-anchor="middle" fill="#111" stroke="#111" stroke-width="0.12">Synpo</text>
<ellipse cx="275.5" cy="84" rx="18.8" ry="6.9" fill="#29a3a4" fill-opacity="0.65" stroke="#2f8384" stroke-opacity="1" stroke-width="0.6"/>
<text x="275.5" y="86.75" font-size="7.7" text-anchor="middle" fill="#111" stroke="#111" stroke-width="0.12">Daam1</text>
<ellipse cx="265" cy="71" rx="18.8" ry="6.9" fill="#29a3a4" fill-opacity="0.65" stroke="#2f8384" stroke-opacity="1" stroke-width="0.6"/>
<text x="265" y="73.75" font-size="7.7" text-anchor="middle" fill="#111" stroke="#111" stroke-width="0.12">Palld</text>
<ellipse cx="253" cy="60.7" rx="18.8" ry="6.9" fill="#cf6d39" fill-opacity="0.65" stroke="#a8684a" stroke-opacity="1" stroke-width="0.6"/>
<text x="253" y="63.45" font-size="7.7" text-anchor="middle" fill="#111" stroke="#111" stroke-width="0.12">Cav1 *</text>
<ellipse cx="240" cy="52" rx="18.8" ry="6.9" fill="#cf6d39" fill-opacity="0.65" stroke="#a8684a" stroke-opacity="1" stroke-width="0.6"/>
<text x="240" y="54.75" font-size="7.7" text-anchor="middle" fill="#111" stroke="#111" stroke-width="0.12">Trim32 *</text>
<ellipse cx="225.5" cy="43" rx="18.8" ry="6.9" fill="#29a3a4" fill-opacity="0.65" stroke="#2f8384" stroke-opacity="1" stroke-width="0.6"/>
<text x="225.5" y="45.75" font-size="7.7" text-anchor="middle" fill="#111" stroke="#111" stroke-width="0.12">Tnnc1</text>
<ellipse cx="198" cy="33" rx="18.8" ry="6.9" fill="#29a3a4" fill-opacity="0.65" stroke="#2f8384" stroke-opacity="1" stroke-width="0.6"/>
<text x="198" y="35.75" font-size="7.7" text-anchor="middle" fill="#111" stroke="#111" stroke-width="0.12">Myl6b</text>
<ellipse cx="162" cy="31.5" rx="18.8" ry="6.9" fill="#d9d532" fill-opacity="0.65" stroke="#a8a64a" stroke-opacity="1" stroke-width="0.6"/>
<text x="162" y="34.25" font-size="7.7" text-anchor="middle" fill="#111" stroke="#111" stroke-width="0.12">Enah</text>
<rect x="168.3" y="104.2" width="36.6" height="14.3" rx="1.5" fill="#cfa8d6" stroke="#a07ab0" stroke-width="0.7"/>
<text x="186.6" y="116" font-size="13.4" text-anchor="middle" textLength="35" lengthAdjust="spacingAndGlyphs" fill="#222">Cdc42</text>
<rect x="116.8" y="222.7" width="36.7" height="14.3" rx="1.5" fill="#cfa8d6" stroke="#a07ab0" stroke-width="0.7"/>
<text x="135.3" y="234" font-size="12.2" text-anchor="middle" textLength="29.5" lengthAdjust="spacingAndGlyphs" fill="#222">RhoA</text>
<rect x="299" y="32.2" width="37.6" height="15" rx="1.8" fill="#cfa8d6" stroke="#9c78a8" stroke-width="0.8"/>
<text x="317.8" y="44" font-size="12.2" text-anchor="middle" fill="#111">Rac</text>
<text x="319.8" y="57.3" font-size="8" text-anchor="middle" textLength="66" lengthAdjust="spacingAndGlyphs" fill="#222">(no associations)</text>
<text transform="translate(11.5,358.7) scale(1.05,1)" font-size="19.3" font-weight="bold" fill="#000">B</text>
<text transform="translate(24.2,416.6) rotate(-90)" x="0" y="0" font-size="14" text-anchor="middle" textLength="84" lengthAdjust="spacingAndGlyphs" fill="#111" stroke="#111" stroke-width="0.18">Rel. RhoA GTPase</text>
<text transform="translate(41.8,416.4) rotate(-90)" x="0" y="0" font-size="14" text-anchor="middle" textLength="34" lengthAdjust="spacingAndGlyphs" fill="#111" stroke="#111" stroke-width="0.18">activity</text>
<rect x="81" y="427.7" width="20.799999999999997" height="35.10000000000002" fill="#4f586e"/>
<rect x="107.2" y="447.1805" width="21.299999999999997" height="15.619500000000016" fill="#ae0a2e"/>
<line x1="91.4" y1="420.329" x2="91.4" y2="435.422" stroke="#000" stroke-width="1.4"/><line x1="86.4" y1="420.329" x2="96.4" y2="420.329" stroke="#000" stroke-width="1.4"/><line x1="86.4" y1="435.422" x2="96.4" y2="435.422" stroke="#000" stroke-width="1.4"/>
<line x1="117.8" y1="443.846" x2="117.8" y2="450.164" stroke="#000" stroke-width="1.4"/><line x1="112.8" y1="443.846" x2="122.8" y2="443.846" stroke="#000" stroke-width="1.4"/><line x1="112.8" y1="450.164" x2="122.8" y2="450.164" stroke="#000" stroke-width="1.4"/>
<circle cx="91.2" cy="395.4" r="1.75" fill="#000"/><circle cx="91.2" cy="420" r="1.75" fill="#000"/><circle cx="85.7" cy="426.2" r="1.75" fill="#000"/><circle cx="96.5" cy="427.4" r="1.75" fill="#000"/><circle cx="91.2" cy="430" r="1.75" fill="#000"/><circle cx="91.2" cy="436.5" r="1.75" fill="#000"/><circle cx="91.2" cy="460.8" r="1.75" fill="#000"/><circle cx="112.6" cy="437.7" r="1.75" fill="#000"/><circle cx="123" cy="437.7" r="1.75" fill="#000"/><circle cx="117.7" cy="442.8" r="1.75" fill="#000"/><circle cx="122.8" cy="448.5" r="1.75" fill="#000"/><circle cx="112.3" cy="451.5" r="1.75" fill="#000"/><circle cx="117.7" cy="453" r="1.75" fill="#000"/><circle cx="117.7" cy="458" r="1.75" fill="#000"/>
<line x1="75.2" y1="370.3" x2="75.2" y2="462.8" stroke="#000" stroke-width="1.6"/>
<line x1="70.7" y1="462.8" x2="75.2" y2="462.8" stroke="#000" stroke-width="1.6"/>
<text x="65.5" y="466.7" font-size="11" text-anchor="end" fill="#111">0.0</text>
<line x1="70.7" y1="445.25" x2="75.2" y2="445.25" stroke="#000" stroke-width="1.6"/>
<text x="65.5" y="449.15" font-size="11" text-anchor="end" fill="#111">0.5</text>
<line x1="70.7" y1="427.7" x2="75.2" y2="427.7" stroke="#000" stroke-width="1.6"/>
<text x="65.5" y="431.59999999999997" font-size="11" text-anchor="end" fill="#111">1.0</text>
<line x1="70.7" y1="410.15" x2="75.2" y2="410.15" stroke="#000" stroke-width="1.6"/>
<text x="65.5" y="414.04999999999995" font-size="11" text-anchor="end" fill="#111">1.5</text>
<line x1="70.7" y1="392.6" x2="75.2" y2="392.6" stroke="#000" stroke-width="1.6"/>
<text x="65.5" y="396.5" font-size="11" text-anchor="end" fill="#111">2.0</text>
<line x1="70.7" y1="375.05" x2="75.2" y2="375.05" stroke="#000" stroke-width="1.6"/>
<text x="65.5" y="378.95" font-size="11" text-anchor="end" fill="#111">2.5</text>
<line x1="70.7" y1="462.8" x2="134.6" y2="462.8" stroke="#000" stroke-width="1.6"/>
<line x1="91.4" y1="462.8" x2="91.4" y2="467.8" stroke="#000" stroke-width="1.4"/>
<line x1="117.85" y1="462.8" x2="117.85" y2="467.8" stroke="#000" stroke-width="1.4"/>
<text x="91.4" y="482.5" font-size="11" text-anchor="middle" fill="#111">WT</text><text x="117.8" y="482.5" font-size="11" text-anchor="middle" fill="#111">cKO</text><text x="117.8" y="495.8" font-size="11" text-anchor="middle" fill="#111">P2</text>
<polyline points="91.2,387 91.2,379.5 118,379.5 118,423.8" fill="none" stroke="#000" stroke-width="1.3"/><text x="104.6" y="381.0" font-size="9.5" text-anchor="middle" fill="#000" stroke="#000" stroke-width="0.3">*</text>
<rect x="180.8" y="419.0" width="21.19999999999999" height="44.0" fill="#4f586e"/>
<rect x="207" y="436.16" width="21.30000000000001" height="26.839999999999975" fill="#66a6de"/>
<line x1="191.4" y1="407.12" x2="191.4" y2="430.88" stroke="#000" stroke-width="1.4"/><line x1="186.4" y1="407.12" x2="196.4" y2="407.12" stroke="#000" stroke-width="1.4"/><line x1="186.4" y1="430.88" x2="196.4" y2="430.88" stroke="#000" stroke-width="1.4"/>
<line x1="217.6" y1="431.32" x2="217.6" y2="441.0" stroke="#000" stroke-width="1.4"/><line x1="212.6" y1="431.32" x2="222.6" y2="431.32" stroke="#000" stroke-width="1.4"/><line x1="212.6" y1="441.0" x2="222.6" y2="441.0" stroke="#000" stroke-width="1.4"/>
<circle cx="190.8" cy="380.8" r="1.75" fill="#000"/><circle cx="188" cy="429.5" r="1.75" fill="#000"/><circle cx="194.5" cy="432.5" r="1.75" fill="#000"/><circle cx="190.8" cy="444.5" r="1.75" fill="#000"/><circle cx="215" cy="426.3" r="1.75" fill="#000"/><circle cx="221.3" cy="426.3" r="1.75" fill="#000"/><circle cx="215.5" cy="436" r="1.75" fill="#000"/><circle cx="221.3" cy="440.5" r="1.75" fill="#000"/><circle cx="218" cy="451.3" r="1.75" fill="#000"/>
<line x1="175.9" y1="370.5" x2="175.9" y2="463" stroke="#000" stroke-width="1.6"/>
<line x1="171.4" y1="463" x2="175.9" y2="463" stroke="#000" stroke-width="1.6"/>
<text x="165.5" y="466.9" font-size="11" text-anchor="end" fill="#111">0.0</text>
<line x1="171.4" y1="441.0" x2="175.9" y2="441.0" stroke="#000" stroke-width="1.6"/>
<text x="165.5" y="444.9" font-size="11" text-anchor="end" fill="#111">0.5</text>
<line x1="171.4" y1="419" x2="175.9" y2="419" stroke="#000" stroke-width="1.6"/>
<text x="165.5" y="422.9" font-size="11" text-anchor="end" fill="#111">1.0</text>
<line x1="171.4" y1="397.0" x2="175.9" y2="397.0" stroke="#000" stroke-width="1.6"/>
<text x="165.5" y="400.9" font-size="11" text-anchor="end" fill="#111">1.5</text>
<line x1="171.4" y1="375" x2="175.9" y2="375" stroke="#000" stroke-width="1.6"/>
<text x="165.5" y="378.9" font-size="11" text-anchor="end" fill="#111">2.0</text>
<line x1="171.4" y1="463" x2="233.8" y2="463" stroke="#000" stroke-width="1.6"/>
<line x1="191.4" y1="463" x2="191.4" y2="468" stroke="#000" stroke-width="1.4"/>
<line x1="217.65" y1="463" x2="217.65" y2="468" stroke="#000" stroke-width="1.4"/>
<text x="190.4" y="482.5" font-size="11" text-anchor="middle" fill="#111">WT</text><text x="217.6" y="482.5" font-size="11" text-anchor="middle" fill="#111">cKO</text><text x="218.6" y="495.8" font-size="11" text-anchor="middle" fill="#111">P2H2</text>

<text transform="translate(260.5,359) scale(1.05,1)" font-size="19.3" font-weight="bold" fill="#000">C</text>
<text transform="translate(274,418.2) rotate(-90)" x="0" y="0" font-size="14" text-anchor="middle" textLength="90" lengthAdjust="spacingAndGlyphs" fill="#111" stroke="#111" stroke-width="0.18">Rel. Cdc42 GTPase</text>
<text transform="translate(291.5,417.7) rotate(-90)" x="0" y="0" font-size="14" text-anchor="middle" textLength="34" lengthAdjust="spacingAndGlyphs" fill="#111" stroke="#111" stroke-width="0.18">activity</text>
<rect x="330" y="406.3" width="22.30000000000001" height="56.39999999999998" fill="#4f586e"/>
<rect x="357.7" y="422.938" width="22.900000000000034" height="39.762" fill="#ae0a2e"/>
<line x1="341.2" y1="402.916" x2="341.2" y2="410.248" stroke="#000" stroke-width="1.4"/><line x1="336.2" y1="402.916" x2="346.2" y2="402.916" stroke="#000" stroke-width="1.4"/><line x1="336.2" y1="410.248" x2="346.2" y2="410.248" stroke="#000" stroke-width="1.4"/>
<line x1="369.2" y1="418.70799999999997" x2="369.2" y2="428.296" stroke="#000" stroke-width="1.4"/><line x1="364.2" y1="418.70799999999997" x2="374.2" y2="418.70799999999997" stroke="#000" stroke-width="1.4"/><line x1="364.2" y1="428.296" x2="374.2" y2="428.296" stroke="#000" stroke-width="1.4"/>
<circle cx="340.7" cy="391.4" r="1.75" fill="#000"/><circle cx="332" cy="403.5" r="1.75" fill="#000"/><circle cx="336" cy="403.5" r="1.75" fill="#000"/><circle cx="341.5" cy="403.5" r="1.75" fill="#000"/><circle cx="345.6" cy="403.5" r="1.75" fill="#000"/><circle cx="350" cy="404.3" r="1.75" fill="#000"/><circle cx="336.7" cy="408.9" r="1.75" fill="#000"/><circle cx="344.8" cy="409.7" r="1.75" fill="#000"/><circle cx="341" cy="423.7" r="1.75" fill="#000"/><circle cx="369" cy="402.2" r="1.75" fill="#000"/><circle cx="369" cy="410.8" r="1.75" fill="#000"/><circle cx="361" cy="423.7" r="1.75" fill="#000"/><circle cx="364.4" cy="422.4" r="1.75" fill="#000"/><circle cx="369.8" cy="425.6" r="1.75" fill="#000"/><circle cx="373.3" cy="424.2" r="1.75" fill="#000"/><circle cx="361" cy="427.5" r="1.75" fill="#000"/><circle cx="373.9" cy="429" r="1.75" fill="#000"/><circle cx="368.5" cy="439" r="1.75" fill="#000"/>
<line x1="324" y1="373" x2="324" y2="462.7" stroke="#000" stroke-width="1.6"/>
<line x1="319.5" y1="462.7" x2="324" y2="462.7" stroke="#000" stroke-width="1.6"/>
<text x="315.5" y="466.59999999999997" font-size="11" text-anchor="end" fill="#111">0.0</text>
<line x1="319.5" y1="434.5" x2="324" y2="434.5" stroke="#000" stroke-width="1.6"/>
<text x="315.5" y="438.4" font-size="11" text-anchor="end" fill="#111">0.5</text>
<line x1="319.5" y1="406.3" x2="324" y2="406.3" stroke="#000" stroke-width="1.6"/>
<text x="315.5" y="410.2" font-size="11" text-anchor="end" fill="#111">1.0</text>
<line x1="319.5" y1="378.1" x2="324" y2="378.1" stroke="#000" stroke-width="1.6"/>
<text x="315.5" y="382.0" font-size="11" text-anchor="end" fill="#111">1.5</text>
<line x1="319.5" y1="462.7" x2="386" y2="462.7" stroke="#000" stroke-width="1.6"/>
<line x1="341.15" y1="462.7" x2="341.15" y2="467.7" stroke="#000" stroke-width="1.4"/>
<line x1="369.15" y1="462.7" x2="369.15" y2="467.7" stroke="#000" stroke-width="1.4"/>
<text x="341.2" y="482.5" font-size="11" text-anchor="middle" fill="#111">WT</text><text x="369.2" y="482.5" font-size="11" text-anchor="middle" fill="#111">cKO</text><text x="369.2" y="495.8" font-size="11" text-anchor="middle" fill="#111">P2</text>
<polyline points="340.7,383.8 340.7,376.3 369,376.3 369,394.6" fill="none" stroke="#000" stroke-width="1.3"/><text x="355" y="377.3" font-size="9.5" text-anchor="middle" fill="#000" stroke="#000" stroke-width="0.3">*</text>
<rect x="455.9" y="390.98799999999994" width="20.200000000000045" height="71.91200000000003" fill="#4f586e"/>
<rect x="481.5" y="400.95599999999996" width="20.5" height="61.94400000000002" fill="#66a6de"/>
<line x1="466" y1="390.27599999999995" x2="466" y2="391.7" stroke="#000" stroke-width="1.4"/><line x1="461.0" y1="390.27599999999995" x2="471.0" y2="390.27599999999995" stroke="#000" stroke-width="1.4"/><line x1="461.0" y1="391.7" x2="471.0" y2="391.7" stroke="#000" stroke-width="1.4"/>
<line x1="491.8" y1="395.26" x2="491.8" y2="405.93999999999994" stroke="#000" stroke-width="1.4"/><line x1="486.8" y1="395.26" x2="496.8" y2="395.26" stroke="#000" stroke-width="1.4"/><line x1="486.8" y1="405.93999999999994" x2="496.8" y2="405.93999999999994" stroke="#000" stroke-width="1.4"/>
<circle cx="457.3" cy="390.4" r="1.75" fill="#000"/><circle cx="460.8" cy="391.2" r="1.75" fill="#000"/><circle cx="464" cy="392" r="1.75" fill="#000"/><circle cx="466.2" cy="392.5" r="1.75" fill="#000"/><circle cx="470.2" cy="391.5" r="1.75" fill="#000"/><circle cx="474.2" cy="390" r="1.75" fill="#000"/><circle cx="491.2" cy="386.1" r="1.75" fill="#000"/><circle cx="495.2" cy="394.5" r="1.75" fill="#000"/><circle cx="487.7" cy="395.5" r="1.75" fill="#000"/><circle cx="491" cy="401.7" r="1.75" fill="#000"/><circle cx="488.5" cy="411.7" r="1.75" fill="#000"/><circle cx="491.2" cy="419.8" r="1.75" fill="#000"/>
<line x1="450.5" y1="372.1" x2="450.5" y2="462.9" stroke="#000" stroke-width="1.6"/>
<line x1="446.0" y1="462.9" x2="450.5" y2="462.9" stroke="#000" stroke-width="1.6"/>
<text x="440" y="466.79999999999995" font-size="11" text-anchor="end" fill="#111">0.0</text>
<line x1="446.0" y1="441.53999999999996" x2="450.5" y2="441.53999999999996" stroke="#000" stroke-width="1.6"/>
<text x="440" y="445.43999999999994" font-size="11" text-anchor="end" fill="#111">0.3</text>
<line x1="446.0" y1="420.17999999999995" x2="450.5" y2="420.17999999999995" stroke="#000" stroke-width="1.6"/>
<text x="440" y="424.0799999999999" font-size="11" text-anchor="end" fill="#111">0.6</text>
<line x1="446.0" y1="398.82" x2="450.5" y2="398.82" stroke="#000" stroke-width="1.6"/>
<text x="440" y="402.71999999999997" font-size="11" text-anchor="end" fill="#111">0.9</text>
<line x1="446.0" y1="377.46" x2="450.5" y2="377.46" stroke="#000" stroke-width="1.6"/>
<text x="440" y="381.35999999999996" font-size="11" text-anchor="end" fill="#111">1.2</text>
<line x1="446.0" y1="462.9" x2="507.9" y2="462.9" stroke="#000" stroke-width="1.6"/>
<line x1="466.0" y1="462.9" x2="466.0" y2="467.9" stroke="#000" stroke-width="1.4"/>
<line x1="491.75" y1="462.9" x2="491.75" y2="467.9" stroke="#000" stroke-width="1.4"/>
<text x="466" y="482.5" font-size="11" text-anchor="middle" fill="#111">WT</text><text x="491.8" y="482.5" font-size="11" text-anchor="middle" fill="#111">cKO</text><text x="491.8" y="495.8" font-size="11" text-anchor="middle" fill="#111">P2H2</text>

<text transform="translate(11.5,540.3) scale(1.07,1)" font-size="20.2" font-weight="bold" fill="#000">D</text>
<text transform="translate(24.2,605.2) rotate(-90)" x="0" y="0" font-size="14" text-anchor="middle" textLength="74.5" lengthAdjust="spacingAndGlyphs" fill="#111" stroke="#111" stroke-width="0.18">Rel. Rac GTPase</text>
<text transform="translate(42.8,605.5) rotate(-90)" x="0" y="0" font-size="14" text-anchor="middle" textLength="36" lengthAdjust="spacingAndGlyphs" fill="#111" stroke="#111" stroke-width="0.18">activity</text>
<rect x="80.2" y="593.584" width="21.599999999999994" height="57.81600000000003" fill="#4f586e"/>
<rect x="107.2" y="602.052" width="20.200000000000003" height="49.347999999999956" fill="#ae0a2e"/>
<line x1="91" y1="589.496" x2="91" y2="598.256" stroke="#000" stroke-width="1.4"/><line x1="86.0" y1="589.496" x2="96.0" y2="589.496" stroke="#000" stroke-width="1.4"/><line x1="86.0" y1="598.256" x2="96.0" y2="598.256" stroke="#000" stroke-width="1.4"/>
<line x1="117.3" y1="599.424" x2="117.3" y2="605.848" stroke="#000" stroke-width="1.4"/><line x1="112.3" y1="599.424" x2="122.3" y2="599.424" stroke="#000" stroke-width="1.4"/><line x1="112.3" y1="605.848" x2="122.3" y2="605.848" stroke="#000" stroke-width="1.4"/>
<circle cx="92.9" cy="580.6" r="1.75" fill="#000"/><circle cx="88" cy="583.3" r="1.75" fill="#000"/><circle cx="82.9" cy="591.4" r="1.75" fill="#000"/><circle cx="86.7" cy="592.2" r="1.75" fill="#000"/><circle cx="91.5" cy="591.4" r="1.75" fill="#000"/><circle cx="99.1" cy="592.2" r="1.75" fill="#000"/><circle cx="91" cy="596.7" r="1.75" fill="#000"/><circle cx="88.8" cy="606.7" r="1.75" fill="#000"/><circle cx="92.9" cy="606.2" r="1.75" fill="#000"/><circle cx="117.1" cy="584.6" r="1.75" fill="#000"/><circle cx="109" cy="594" r="1.75" fill="#000"/><circle cx="113.1" cy="596.7" r="1.75" fill="#000"/><circle cx="124.4" cy="596.2" r="1.75" fill="#000"/><circle cx="114.4" cy="605.6" r="1.75" fill="#000"/><circle cx="119.3" cy="604.8" r="1.75" fill="#000"/><circle cx="118.5" cy="611" r="1.75" fill="#000"/><circle cx="116.6" cy="625.8" r="1.75" fill="#000"/>
<line x1="74.6" y1="559.8" x2="74.6" y2="651.4" stroke="#000" stroke-width="1.6"/>
<line x1="70.1" y1="651.4" x2="74.6" y2="651.4" stroke="#000" stroke-width="1.6"/>
<text x="65.5" y="655.3" font-size="11" text-anchor="end" fill="#111">0.0</text>
<line x1="70.1" y1="622.1999999999999" x2="74.6" y2="622.1999999999999" stroke="#000" stroke-width="1.6"/>
<text x="65.5" y="626.0999999999999" font-size="11" text-anchor="end" fill="#111">0.5</text>
<line x1="70.1" y1="593.0" x2="74.6" y2="593.0" stroke="#000" stroke-width="1.6"/>
<text x="65.5" y="596.9" font-size="11" text-anchor="end" fill="#111">1.0</text>
<line x1="70.1" y1="563.8" x2="74.6" y2="563.8" stroke="#000" stroke-width="1.6"/>
<text x="65.5" y="567.6999999999999" font-size="11" text-anchor="end" fill="#111">1.5</text>
<line x1="70.1" y1="651.4" x2="133.8" y2="651.4" stroke="#000" stroke-width="1.6"/>
<line x1="91.0" y1="651.4" x2="91.0" y2="656.4" stroke="#000" stroke-width="1.4"/>
<line x1="117.30000000000001" y1="651.4" x2="117.30000000000001" y2="656.4" stroke="#000" stroke-width="1.4"/>
<text x="91" y="671.5" font-size="11" text-anchor="middle" fill="#111">WT</text><text x="117.3" y="671.5" font-size="11" text-anchor="middle" fill="#111">cKO</text><text x="117.3" y="684.8" font-size="11" text-anchor="middle" fill="#111">P2</text>

<rect x="181.2" y="577.8" width="20.80000000000001" height="73.70000000000005" fill="#4f586e"/>
<rect x="207.3" y="582.222" width="21.5" height="69.27800000000002" fill="#66a6de"/>
<line x1="191.6" y1="575.5889999999999" x2="191.6" y2="582.222" stroke="#000" stroke-width="1.4"/><line x1="186.6" y1="575.5889999999999" x2="196.6" y2="575.5889999999999" stroke="#000" stroke-width="1.4"/><line x1="186.6" y1="582.222" x2="196.6" y2="582.222" stroke="#000" stroke-width="1.4"/>
<line x1="218" y1="579.274" x2="218" y2="585.17" stroke="#000" stroke-width="1.4"/><line x1="213.0" y1="579.274" x2="223.0" y2="579.274" stroke="#000" stroke-width="1.4"/><line x1="213.0" y1="585.17" x2="223.0" y2="585.17" stroke="#000" stroke-width="1.4"/>
<circle cx="191.2" cy="568.2" r="1.75" fill="#000"/><circle cx="183.5" cy="578.5" r="1.75" fill="#000"/><circle cx="188.4" cy="577" r="1.75" fill="#000"/><circle cx="197.4" cy="578.8" r="1.75" fill="#000"/><circle cx="188.9" cy="582.7" r="1.75" fill="#000"/><circle cx="193.5" cy="583.4" r="1.75" fill="#000"/><circle cx="217.2" cy="574.2" r="1.75" fill="#000"/><circle cx="213.5" cy="579.2" r="1.75" fill="#000"/><circle cx="218.9" cy="581.1" r="1.75" fill="#000"/><circle cx="223.5" cy="585" r="1.75" fill="#000"/><circle cx="213.1" cy="585.2" r="1.75" fill="#000"/><circle cx="217.2" cy="588.5" r="1.75" fill="#000"/>
<line x1="175.5" y1="558.5" x2="175.5" y2="651.5" stroke="#000" stroke-width="1.6"/>
<line x1="171.0" y1="651.5" x2="175.5" y2="651.5" stroke="#000" stroke-width="1.6"/>
<text x="166" y="655.4" font-size="11" text-anchor="end" fill="#111">0.0</text>
<line x1="171.0" y1="622.02" x2="175.5" y2="622.02" stroke="#000" stroke-width="1.6"/>
<text x="166" y="625.92" font-size="11" text-anchor="end" fill="#111">0.4</text>
<line x1="171.0" y1="592.54" x2="175.5" y2="592.54" stroke="#000" stroke-width="1.6"/>
<text x="166" y="596.4399999999999" font-size="11" text-anchor="end" fill="#111">0.8</text>
<line x1="171.0" y1="563.06" x2="175.5" y2="563.06" stroke="#000" stroke-width="1.6"/>
<text x="166" y="566.9599999999999" font-size="11" text-anchor="end" fill="#111">1.2</text>
<line x1="171.0" y1="651.5" x2="235" y2="651.5" stroke="#000" stroke-width="1.6"/>
<line x1="191.6" y1="651.5" x2="191.6" y2="656.5" stroke="#000" stroke-width="1.4"/>
<line x1="218.05" y1="651.5" x2="218.05" y2="656.5" stroke="#000" stroke-width="1.4"/>
<text x="190.6" y="671.5" font-size="11" text-anchor="middle" fill="#111">WT</text><text x="218" y="671.5" font-size="11" text-anchor="middle" fill="#111">cKO</text><text x="218" y="684.8" font-size="11" text-anchor="middle" fill="#111">P2H2</text>

<text transform="translate(261,540.2) scale(1.0,1)" font-size="18.4" font-weight="bold" fill="#000">E</text>
<text transform="translate(276.9,604.8) rotate(-90)" x="0" y="0" font-size="14.8" text-anchor="middle" textLength="59" lengthAdjust="spacingAndGlyphs" fill="#111" stroke="#111" stroke-width="0.18">Mean speed</text>
<text transform="translate(292,605.1) rotate(-90)" x="0" y="0" font-size="14" text-anchor="middle" textLength="50.6" lengthAdjust="spacingAndGlyphs" fill="#111" stroke="#111" stroke-width="0.18">(µm/min)</text>
<line x1="338.85" y1="576.966" x2="338.85" y2="643.656" stroke="#000" stroke-width="1.4"/>
<line x1="335.35" y1="576.966" x2="342.35" y2="576.966" stroke="#000" stroke-width="1.4"/>
<line x1="335.35" y1="643.656" x2="342.35" y2="643.656" stroke="#000" stroke-width="1.4"/>
<rect x="332.1" y="595.244" width="13.5" height="36.555999999999926" fill="#c9c7ce"/>
<line x1="332.1" y1="615.992" x2="345.6" y2="615.992" stroke="#000" stroke-width="2"/>
<line x1="365.2" y1="572.026" x2="365.2" y2="637.728" stroke="#000" stroke-width="1.4"/>
<line x1="361.7" y1="572.026" x2="368.7" y2="572.026" stroke="#000" stroke-width="1.4"/>
<line x1="361.7" y1="637.728" x2="368.7" y2="637.728" stroke="#000" stroke-width="1.4"/>
<rect x="358.4" y="584.376" width="13.600000000000023" height="34.58000000000004" fill="#6aa842"/>
<line x1="358.4" y1="599.69" x2="372" y2="599.69" stroke="#000" stroke-width="2"/>
<line x1="324" y1="553.7" x2="324" y2="661.4" stroke="#000" stroke-width="1.6"/>
<line x1="319.5" y1="656.5" x2="324" y2="656.5" stroke="#000" stroke-width="1.6"/>
<text x="315.5" y="660.4" font-size="11" text-anchor="end" fill="#111">5</text>
<line x1="319.5" y1="631.8" x2="324" y2="631.8" stroke="#000" stroke-width="1.6"/>
<text x="315.5" y="635.6999999999999" font-size="11" text-anchor="end" fill="#111">10</text>
<line x1="319.5" y1="607.1" x2="324" y2="607.1" stroke="#000" stroke-width="1.6"/>
<text x="315.5" y="611.0" font-size="11" text-anchor="end" fill="#111">15</text>
<line x1="319.5" y1="582.4" x2="324" y2="582.4" stroke="#000" stroke-width="1.6"/>
<text x="315.5" y="586.3" font-size="11" text-anchor="end" fill="#111">20</text>
<line x1="319.5" y1="557.7" x2="324" y2="557.7" stroke="#000" stroke-width="1.6"/>
<text x="315.5" y="561.6" font-size="11" text-anchor="end" fill="#111">25</text>
<text x="337.5" y="671.5" font-size="11" text-anchor="middle" fill="#111">Ctrl</text><text x="365" y="671.5" font-size="11" text-anchor="middle" fill="#111">CCG</text><text x="365" y="684.8" font-size="11" text-anchor="middle" fill="#111">1µM</text>
<polyline points="338.9,569.3 338.9,557.7 365.2,557.7 365.2,563.1" fill="none" stroke="#000" stroke-width="1.3"/><text x="351.8" y="558.4" font-size="9.5" text-anchor="middle" fill="#000" stroke="#000" stroke-width="0.3">*</text>
<text transform="translate(402.9,605.8) rotate(-90)" x="0" y="0" font-size="14.8" text-anchor="middle" textLength="60" lengthAdjust="spacingAndGlyphs" fill="#111" stroke="#111" stroke-width="0.18">Mean speed</text>
<text transform="translate(419,605.5) rotate(-90)" x="0" y="0" font-size="14" text-anchor="middle" textLength="52.5" lengthAdjust="spacingAndGlyphs" fill="#111" stroke="#111" stroke-width="0.18">(µm/min)</text>
<line x1="464.8" y1="590.798" x2="464.8" y2="647.114" stroke="#000" stroke-width="1.4"/>
<line x1="461.3" y1="590.798" x2="468.3" y2="590.798" stroke="#000" stroke-width="1.4"/>
<line x1="461.3" y1="647.114" x2="468.3" y2="647.114" stroke="#000" stroke-width="1.4"/>
<rect x="458.1" y="601.6659999999999" width="13.399999999999977" height="34.58000000000004" fill="#c9c7ce"/>
<line x1="458.1" y1="619.944" x2="471.5" y2="619.944" stroke="#000" stroke-width="2"/>
<line x1="491.04999999999995" y1="575.484" x2="491.04999999999995" y2="637.234" stroke="#000" stroke-width="1.4"/>
<line x1="487.54999999999995" y1="575.484" x2="494.54999999999995" y2="575.484" stroke="#000" stroke-width="1.4"/>
<line x1="487.54999999999995" y1="637.234" x2="494.54999999999995" y2="637.234" stroke="#000" stroke-width="1.4"/>
<rect x="484.2" y="586.846" width="13.699999999999989" height="29.639999999999986" fill="#6aa842"/>
<line x1="484.2" y1="603.148" x2="497.9" y2="603.148" stroke="#000" stroke-width="2"/>
<line x1="450.5" y1="553.7" x2="450.5" y2="661.4" stroke="#000" stroke-width="1.6"/>
<line x1="446.0" y1="656.5" x2="450.5" y2="656.5" stroke="#000" stroke-width="1.6"/>
<text x="442.5" y="660.4" font-size="11" text-anchor="end" fill="#111">5</text>
<line x1="446.0" y1="631.8" x2="450.5" y2="631.8" stroke="#000" stroke-width="1.6"/>
<text x="442.5" y="635.6999999999999" font-size="11" text-anchor="end" fill="#111">10</text>
<line x1="446.0" y1="607.1" x2="450.5" y2="607.1" stroke="#000" stroke-width="1.6"/>
<text x="442.5" y="611.0" font-size="11" text-anchor="end" fill="#111">15</text>
<line x1="446.0" y1="582.4" x2="450.5" y2="582.4" stroke="#000" stroke-width="1.6"/>
<text x="442.5" y="586.3" font-size="11" text-anchor="end" fill="#111">20</text>
<line x1="446.0" y1="557.7" x2="450.5" y2="557.7" stroke="#000" stroke-width="1.6"/>
<text x="442.5" y="561.6" font-size="11" text-anchor="end" fill="#111">25</text>
<text x="464.2" y="671.5" font-size="11" text-anchor="middle" fill="#111">Ctrl</text><text x="491" y="671.5" font-size="11" text-anchor="middle" fill="#111">C3</text><text x="491.7" y="684.8" font-size="11" text-anchor="middle" fill="#111">1µM</text>
<polyline points="464.8,578.5 464.8,556.9 490.9,556.9 490.9,562.8" fill="none" stroke="#000" stroke-width="1.3"/><text x="478.3" y="558.5" font-size="9.5" text-anchor="middle" fill="#000" stroke="#000" stroke-width="0.3">*</text>
<text transform="translate(12,728.3) scale(1.02,1)" font-size="19.3" font-weight="bold" fill="#000">F</text>
<text transform="translate(28.3,790.3) rotate(-90)" x="0" y="0" font-size="14.8" text-anchor="middle" textLength="60.6" lengthAdjust="spacingAndGlyphs" fill="#111" stroke="#111" stroke-width="0.18">Mean speed</text>
<text transform="translate(45.3,789.7) rotate(-90)" x="0" y="0" font-size="14" text-anchor="middle" textLength="51.4" lengthAdjust="spacingAndGlyphs" fill="#111" stroke="#111" stroke-width="0.18">(µm/min)</text>
<line x1="90.30000000000001" y1="759.76" x2="90.30000000000001" y2="826.74" stroke="#000" stroke-width="1.4"/>
<line x1="86.80000000000001" y1="759.76" x2="93.80000000000001" y2="759.76" stroke="#000" stroke-width="1.4"/>
<line x1="86.80000000000001" y1="826.74" x2="93.80000000000001" y2="826.74" stroke="#000" stroke-width="1.4"/>
<rect x="83.7" y="787.8325" width="13.200000000000003" height="31.027500000000032" fill="#c9c7ce"/>
<line x1="83.7" y1="805.5625" x2="96.9" y2="805.5625" stroke="#000" stroke-width="2"/>
<line x1="121.69999999999999" y1="757.2975" x2="121.69999999999999" y2="824.77" stroke="#000" stroke-width="1.4"/>
<line x1="118.19999999999999" y1="757.2975" x2="125.19999999999999" y2="757.2975" stroke="#000" stroke-width="1.4"/>
<line x1="118.19999999999999" y1="824.77" x2="125.19999999999999" y2="824.77" stroke="#000" stroke-width="1.4"/>
<rect x="114.8" y="781.9225" width="13.799999999999997" height="33.49000000000001" fill="#e8b820"/>
<line x1="114.8" y1="804.085" x2="128.6" y2="804.085" stroke="#000" stroke-width="2"/>
<line x1="74.8" y1="739.4" x2="74.8" y2="847" stroke="#000" stroke-width="1.6"/>
<line x1="70.3" y1="842.5" x2="74.8" y2="842.5" stroke="#000" stroke-width="1.6"/>
<text x="66.2" y="846.4" font-size="11" text-anchor="end" fill="#111">5</text>
<line x1="70.3" y1="817.875" x2="74.8" y2="817.875" stroke="#000" stroke-width="1.6"/>
<text x="66.2" y="821.775" font-size="11" text-anchor="end" fill="#111">10</text>
<line x1="70.3" y1="793.25" x2="74.8" y2="793.25" stroke="#000" stroke-width="1.6"/>
<text x="66.2" y="797.15" font-size="11" text-anchor="end" fill="#111">15</text>
<line x1="70.3" y1="768.625" x2="74.8" y2="768.625" stroke="#000" stroke-width="1.6"/>
<text x="66.2" y="772.525" font-size="11" text-anchor="end" fill="#111">20</text>
<line x1="70.3" y1="744.0" x2="74.8" y2="744.0" stroke="#000" stroke-width="1.6"/>
<text x="66.2" y="747.9" font-size="11" text-anchor="end" fill="#111">25</text>
<text x="90" y="857.5" font-size="11" text-anchor="middle" fill="#111">Ctrl</text><text x="121.6" y="857.5" font-size="11" text-anchor="middle" fill="#111">ML141</text><text x="121.8" y="870.8" font-size="11" text-anchor="middle" fill="#111">1µM</text>

<rect x="1" y="1" width="518" height="882" fill="none" stroke="#000" stroke-width="2"/>
</svg>
</body></html>
